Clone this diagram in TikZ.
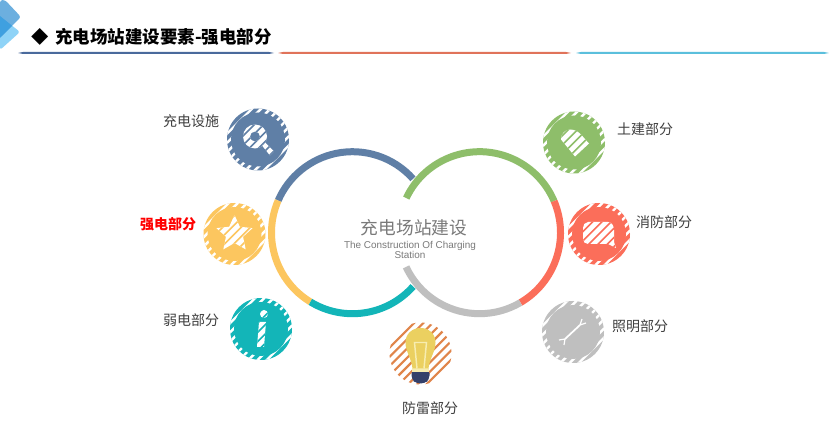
\documentclass[tikz,border=0pt]{standalone}
\usepackage{fontspec}
\usepackage{xcolor}
\usepackage{tikz}
\setmainfont{Liberation Sans}
\newfontfamily\cjk{Noto Sans CJK SC}
\definecolor{ringblue}{HTML}{5F7FA6}
\definecolor{ringyellow}{HTML}{FCC65F}
\definecolor{ringteal}{HTML}{13B5B8}
\definecolor{ringgreen}{HTML}{8EBE6A}
\definecolor{ringred}{HTML}{FB6E5A}
\definecolor{ringgray}{HTML}{BFBFBF}
\definecolor{bulbline}{HTML}{E0854A}
\definecolor{bulbhead}{HTML}{EBD060}
\definecolor{bulbpale}{HTML}{F7EDB0}
\definecolor{bulbbase}{HTML}{34406A}
\definecolor{labeltext}{HTML}{404040}
\definecolor{centertext}{HTML}{7A7A7A}
\definecolor{cornerdark}{HTML}{6CAFDF}
\definecolor{cornermid}{HTML}{3FA0E0}
\definecolor{cornerlight}{HTML}{8FD3F7}
\definecolor{rulenavy}{HTML}{4A6A9C}
\definecolor{rulered}{HTML}{E0735A}
\definecolor{rulecyan}{HTML}{5BBFDC}
\tikzset{
  ringarc/.style={line width=5.25pt},
  outerdisk/.style={circle,inner sep=0pt,minimum size=46.5pt},
  innerdisk/.style={circle,inner sep=0pt,minimum size=40.5pt},
  partlabel/.style={font=\cjk\fontsize{10.5pt}{12pt}\selectfont,text=labeltext,inner sep=0pt}
}
\newcommand\hatchlines[2]{\foreach \k in {-7,...,7} \draw[color=#1,line width=#2] (\k*9.2-45,-45)--(\k*9.2+45,45);}
\newcommand\badge[3]{%
  \begin{scope}[shift={(#2)}]
    \node[outerdisk,fill=#3] (#1) at (0,0) {};
    \begin{scope}
      \clip (0,0) circle[radius=31];
      \hatchlines{white}{1.8pt}
    \end{scope}
    \node[innerdisk,fill=#3] (#1in) at (0,0) {};
  \end{scope}}
\newcommand\badgeicon[3]{%
  \begin{scope}[shift={(#1)},even odd rule]
    \fill[white] #3;
    \clip #3;
    \hatchlines{#2}{1.2pt}
  \end{scope}}
\newcommand\headrule[3]{\fill[#3] (#1,379)--(#1+5,380)--(#2-5,380)--(#2,379)--(#2-5,378)--(#1+5,378)--cycle;}
\begin{document}
\begin{tikzpicture}[x=0.75pt,y=0.75pt]
  \useasboundingbox[fill=white] (0,0) rectangle (829,432);
  % corner
  \fill[cornerlight,rounded corners=2pt] (0,416)--(20,400)--(0,382)--cycle;
  \fill[cornerdark,rounded corners=2pt] (0,432)--(5,432)--(21,415)--(0,394)--cycle;
  \fill[cornermid] (0,416)--(12.2,406.2)--(0,394)--cycle;
  % title
  \node[inner sep=0pt] (mark) at (40,395) {\cjk\fontsize{13pt}{15pt}\selectfont\bfseries ◆};
  \node[anchor=west,inner sep=0pt] (title) at (55,395) {\cjk\fontsize{13.1pt}{15pt}\selectfont\bfseries 充电场站建设要素-强电部分};
  \headrule{18}{274}{rulenavy}
  \headrule{278}{571}{rulered}
  \headrule{576}{829}{rulecyan}
  % rings
  \coordinate (lring) at (352.5,199.3);
  \coordinate (rring) at (479.5,199.3);
  \draw[ringarc,ringblue] ([shift={(41.7:81)}]lring) arc[start angle=41.7,end angle=156.6,radius=81];
  \draw[ringarc,ringyellow] ([shift={(156.6:81)}]lring) arc[start angle=156.6,end angle=238.7,radius=81];
  \draw[ringarc,ringteal] ([shift={(238.7:81)}]lring) arc[start angle=238.7,end angle=318.4,radius=81];
  \draw[ringarc,ringgreen] ([shift={(154.7:81)}]rring) arc[start angle=154.7,end angle=23,radius=81];
  \draw[ringarc,ringred] ([shift={(23:81)}]rring) arc[start angle=23,end angle=-59.6,radius=81];
  \draw[ringarc,ringgray] ([shift={(-59.6:81)}]rring) arc[start angle=-59.6,end angle=-155,radius=81];
  % centre text
  \node[inner sep=0pt,text=centertext] (centre) at (414,204) {\cjk\fontsize{13.3pt}{15pt}\selectfont 充电场站建设};
  \node[inner sep=0pt,text=centertext,align=center,font=\fontsize{7.45pt}{7.9pt}\selectfont] (centreen) at (410,182) {The Construction Of Charging\\Station};
  % badges
  \badge{facility}{258,292.5}{ringblue}
  \badgeicon{258,292.5}{ringblue}{(-3,3) circle[radius=12] (-3,3) circle[radius=5] (4,-6)--(7,-3)--(16,-12)--(12,-16)--cycle}
  \badge{power}{234.5,198}{ringyellow}
  \badgeicon{234.5,198}{ringyellow}{(90:19)--(126:9)--(162:19)--(198:9)--(234:19)--(270:9)--(306:19)--(342:9)--(18:19)--(54:9)--cycle}
  \badge{weak}{261,103}{ringteal}
  \badgeicon{261,103}{ringteal}{(3,15) circle[radius=4] (-2,7)--(5,7)--(3,-18)--(-4,-18)--cycle}
  \badge{civil}{574,289.5}{ringgreen}
  \badgeicon{574,289.5}{ringgreen}{(-13,3) to[out=90,in=180] (-4,13) to[out=0,in=135] (15,-1)--(1,-14)--cycle}
  \badge{fire}{599,198}{ringred}
  \badgeicon{599,198}{ringred}{(-16,6) to[out=90,in=180] (-11,12)--(9,12) to[out=0,in=90] (15,4)--(15,-8)--(17,-14)--(9,-10)--(-11,-10) to[out=180,in=-90] (-16,-5)--cycle}
  \badge{light}{573,100}{ringgray}
  \begin{scope}[shift={(573,100)}]
    \draw[white,line width=1.3pt] (-8,-7)--(7,7);
    \draw[white,line width=0.9pt] (13,9)--(7,7)--(9,13);
    \draw[white,line width=0.9pt] (-14,-8)--(-8,-7)--(-9,-13);
  \end{scope}
  % bulb
  \begin{scope}[shift={(420.5,78.5)}]
    \node[outerdisk] (bulbdisk) at (0,0) {};
    \begin{scope}
      \clip (0,0) circle[radius=31];
      \hatchlines{bulbline}{1.6pt}
    \end{scope}
    \fill[bulbbase,rounded corners=3pt] (-9,-16)--(9,-16)--(9,-26)--(4,-30)--(-4,-30)--(-9,-26)--cycle;
    \fill[bulbpale] (-8.5,-15)--(8.5,-15)--(8.5,-19)--(-8.5,-19)--cycle;
    \fill[bulbhead] (-8,-15) .. controls (-9,-5) and (-15,2) .. (-15,11) .. controls (-15,20) and (-8,25.5) .. (0,25.5) .. controls (8,25.5) and (15,20) .. (15,11) .. controls (15,2) and (9,-5) .. (8,-15) -- cycle;
    \draw[bulbpale,line width=1.1pt] (-3.5,-15)--(-6,11)--(6,11)--(3.5,-15);
  \end{scope}
  % labels
  \node[partlabel] (facilitytext) at (191,311) {充电设施};
  \node[partlabel,text=red,font=\cjk\fontsize{10.5pt}{12pt}\selectfont\bfseries] (powertext) at (168,208) {强电部分};
  \node[partlabel] (weaktext) at (191,112) {弱电部分};
  \node[partlabel] (bulbtext) at (430,24) {防雷部分};
  \node[partlabel] (civiltext) at (645,303) {土建部分};
  \node[partlabel] (firetext) at (664,210) {消防部分};
  \node[partlabel] (lighttext) at (640,106) {照明部分};
\end{tikzpicture}
\end{document}
